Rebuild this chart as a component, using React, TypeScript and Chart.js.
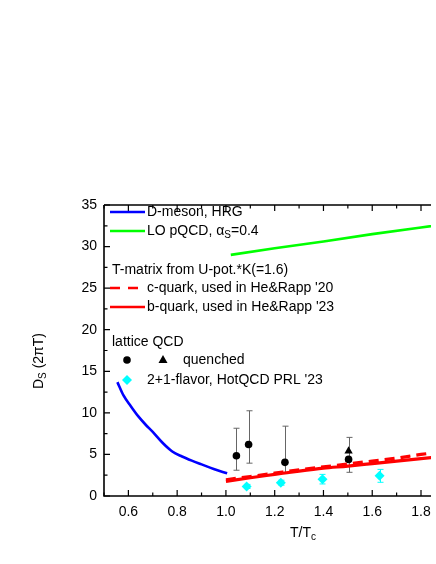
import React, { useEffect, useRef } from 'react';
import { Chart, registerables } from 'chart.js';

Chart.register(...registerables);

// ---- data ----
const X_TICKS = [0.6, 0.8, 1.0, 1.2, 1.4, 1.6, 1.8];
const X_MINOR = [0.5, 0.7, 0.9, 1.1, 1.3, 1.5, 1.7];
const Y_TICKS = [0, 5, 10, 15, 20, 25, 30, 35];
const Y_MINOR = [2.5, 7.5, 12.5, 17.5, 22.5, 27.5, 32.5];

const HRG_T = [0.555, 0.58, 0.61, 0.64, 0.67, 0.7, 0.74, 0.78, 0.82, 0.86, 0.9, 0.95, 1.005];
const HRG_D = [13.7, 12.1, 10.8, 9.6, 8.6, 7.7, 6.4, 5.35, 4.75, 4.25, 3.8, 3.25, 2.73];

const PQCD_T = [1.02, 1.2, 1.4, 1.6, 1.8, 2.0];
const PQCD_D = [29.0, 29.8, 30.6, 31.5, 32.3, 33.1];

const TM_T = [1.0, 1.1, 1.2, 1.3, 1.4, 1.5, 1.6, 1.7, 1.8, 1.9, 2.0];
const CQ_D = [1.95, 2.35, 2.75, 3.15, 3.5, 3.85, 4.2, 4.55, 5.0, 5.35, 5.65];
const BQ_D = [1.75, 2.2, 2.6, 3.0, 3.35, 3.6, 3.9, 4.2, 4.5, 4.8, 5.1];

const QUE_T = [1.043, 1.093, 1.242, 1.503];
const QUE_D = [4.85, 6.2, 4.05, 4.4];
const QUE_LO = [3.1, 3.95, 2.7, 2.85];
const QUE_HI = [8.15, 10.25, 8.4, 7.05];

const TRI_T = [1.503];
const TRI_D = [5.4];

const HOT_T = [1.085, 1.225, 1.396, 1.63];
const HOT_D = [1.15, 1.6, 2.0, 2.45];
const HOT_LO = [0.9, 1.3, 1.45, 1.65];
const HOT_HI = [1.4, 1.9, 2.6, 3.2];

const FONT = '"Liberation Sans", Arial, sans-serif';
const BLUE = '#0000ff';
const GREEN = '#00ff00';
const RED = '#ff0000';
const CYAN = '#00ffff';

const pts = (xs: number[], ys: number[]) => xs.map((x, i) => ({ x, y: ys[i] }));

type Part = { t: string; sub?: boolean };

function drawRich(ctx: CanvasRenderingContext2D, parts: Part[], x: number, y: number, align: 'left' | 'center', size = 14) {
  const f = `${size}px ${FONT}`;
  const fs = `${Math.round(size * 0.72)}px ${FONT}`;
  let total = 0;
  const widths = parts.map((p) => {
    ctx.font = p.sub ? fs : f;
    const w = ctx.measureText(p.t).width;
    total += w;
    return w;
  });
  let cx = align === 'center' ? x - total / 2 : x;
  ctx.textBaseline = 'middle';
  ctx.textAlign = 'left';
  parts.forEach((p, i) => {
    ctx.font = p.sub ? fs : f;
    ctx.fillText(p.t, cx, p.sub ? y + 4 : y);
    cx += widths[i];
  });
}

const decor = {
  id: 'decor',
  beforeDatasetsDraw(chart: any) {
    const ctx: CanvasRenderingContext2D = chart.ctx;
    const xs = chart.scales.x;
    const ys = chart.scales.y;
    ctx.save();
    const bars = (X: number[], LO: number[], HI: number[], color: string) => {
      ctx.strokeStyle = color;
      ctx.lineWidth = 1;
      X.forEach((xv, i) => {
        const px = Math.round(xs.getPixelForValue(xv)) + 0.5;
        const pl = ys.getPixelForValue(LO[i]);
        const ph = ys.getPixelForValue(HI[i]);
        ctx.beginPath();
        ctx.moveTo(px, pl);
        ctx.lineTo(px, ph);
        ctx.moveTo(px - 3, pl);
        ctx.lineTo(px + 3, pl);
        ctx.moveTo(px - 3, ph);
        ctx.lineTo(px + 3, ph);
        ctx.stroke();
      });
    };
    bars(QUE_T, QUE_LO, QUE_HI, '#666666');
    bars(HOT_T, HOT_LO, HOT_HI, CYAN);
    ctx.restore();
  },
  afterDraw(chart: any) {
    const ctx: CanvasRenderingContext2D = chart.ctx;
    const { left, right, top, bottom } = chart.chartArea;
    const xs = chart.scales.x;
    const ys = chart.scales.y;
    ctx.save();
    ctx.strokeStyle = '#000';
    ctx.fillStyle = '#000';
    ctx.lineWidth = 1.6;
    ctx.beginPath();
    ctx.moveTo(left, top);
    ctx.lineTo(right, top);
    ctx.moveTo(left, top);
    ctx.lineTo(left, bottom);
    ctx.lineTo(right, bottom);
    ctx.stroke();
    ctx.lineWidth = 1.2;
    ctx.beginPath();
    const xTick = (v: number, len: number) => {
      const p = xs.getPixelForValue(v);
      ctx.moveTo(p, bottom);
      ctx.lineTo(p, bottom - len);
      ctx.moveTo(p, top);
      ctx.lineTo(p, top + len);
    };
    const yTick = (v: number, len: number) => {
      const p = ys.getPixelForValue(v);
      ctx.moveTo(left, p);
      ctx.lineTo(left + len, p);
    };
    X_TICKS.forEach((v) => xTick(v, 6));
    X_MINOR.forEach((v) => xTick(v, 3.5));
    Y_TICKS.forEach((v) => yTick(v, 6));
    Y_MINOR.forEach((v) => yTick(v, 3.5));
    ctx.stroke();

    // axis titles
    ctx.fillStyle = '#000';
    drawRich(ctx, [{ t: 'T/T' }, { t: 'c', sub: true }], 303, 533, 'center');
    ctx.save();
    ctx.translate(39, 361);
    ctx.rotate(-Math.PI / 2);
    drawRich(ctx, [{ t: 'D' }, { t: 'S', sub: true }, { t: ' (2\u03c0T)' }], 0, 0, 'center');
    ctx.restore();

    // legend
    const line = (y: number, color: string, dash: number[], x0 = 110, x1 = 145) => {
      ctx.save();
      ctx.strokeStyle = color;
      ctx.lineWidth = 2.6;
      ctx.setLineDash(dash);
      ctx.beginPath();
      ctx.moveTo(x0, y);
      ctx.lineTo(x1, y);
      ctx.stroke();
      ctx.restore();
    };
    ctx.fillStyle = '#000';
    line(212, BLUE, []);
    drawRich(ctx, [{ t: 'D-meson, HRG' }], 147, 212, 'left');
    line(231, GREEN, []);
    drawRich(ctx, [{ t: 'LO pQCD, \u03b1' }, { t: 'S', sub: true }, { t: '=0.4' }], 147, 231, 'left');
    drawRich(ctx, [{ t: 'T-matrix from U-pot.*K(=1.6)' }], 112, 270, 'left');
    line(288, RED, [10, 8], 110, 146);
    drawRich(ctx, [{ t: "c-quark, used in He&Rapp '20" }], 147, 288, 'left');
    line(307, RED, []);
    drawRich(ctx, [{ t: "b-quark, used in He&Rapp '23" }], 147, 307, 'left');
    drawRich(ctx, [{ t: 'lattice QCD' }], 112, 342, 'left');
    // circle
    ctx.fillStyle = '#000';
    ctx.beginPath();
    ctx.arc(127, 360, 3.8, 0, Math.PI * 2);
    ctx.fill();
    // triangle
    ctx.beginPath();
    ctx.moveTo(163, 355);
    ctx.lineTo(167.5, 363);
    ctx.lineTo(158.5, 363);
    ctx.closePath();
    ctx.fill();
    drawRich(ctx, [{ t: 'quenched' }], 183, 360, 'left');
    // diamond
    ctx.fillStyle = CYAN;
    ctx.beginPath();
    ctx.moveTo(127, 375);
    ctx.lineTo(132, 380);
    ctx.lineTo(127, 385);
    ctx.lineTo(122, 380);
    ctx.closePath();
    ctx.fill();
    ctx.fillStyle = '#000';
    drawRich(ctx, [{ t: "2+1-flavor, HotQCD PRL '23" }], 147, 380, 'left');
    ctx.restore();
  },
};

export default function App() {
  const ref = useRef<HTMLCanvasElement | null>(null);
  useEffect(() => {
    if (!ref.current) return;
    const chart = new Chart(ref.current, {
      type: 'scatter',
      data: {
        datasets: [
          { label: 'D-meson, HRG', data: pts(HRG_T, HRG_D), showLine: true, borderColor: BLUE, borderWidth: 2.6, pointRadius: 0, cubicInterpolationMode: 'monotone' },
          { label: 'LO pQCD', data: pts(PQCD_T, PQCD_D), showLine: true, borderColor: GREEN, borderWidth: 2.6, pointRadius: 0 },
          { label: 'c-quark', data: pts(TM_T, CQ_D), showLine: true, borderColor: RED, borderWidth: 3.2, borderDash: [10, 6], pointRadius: 0, cubicInterpolationMode: 'monotone' },
          { label: 'b-quark', data: pts(TM_T, BQ_D), showLine: true, borderColor: RED, borderWidth: 3.2, pointRadius: 0, cubicInterpolationMode: 'monotone' },
          { label: 'quenched', data: pts(QUE_T, QUE_D), showLine: false, pointStyle: 'circle', pointRadius: 3.8, backgroundColor: '#000', borderColor: '#000', borderWidth: 0 },
          { label: 'quenched tri', data: pts(TRI_T, TRI_D), showLine: false, pointStyle: 'triangle', pointRadius: 4.8, backgroundColor: '#000', borderColor: '#000', borderWidth: 0 },
          { label: 'HotQCD', data: pts(HOT_T, HOT_D), showLine: false, pointStyle: 'rectRot', pointRadius: 5, backgroundColor: CYAN, borderColor: CYAN, borderWidth: 0 },
        ],
      },
      options: {
        responsive: false,
        animation: false,
        layout: { padding: { top: 205, left: 0, right: 0, bottom: 0 } },
        plugins: { legend: { display: false }, tooltip: { enabled: false }, title: { display: false } },
        scales: {
          x: {
            type: 'linear',
            min: 0.5,
            max: 1.841,
            grid: { display: false, drawTicks: false },
            border: { display: false },
            ticks: {
              padding: 8,
              color: '#000',
              font: { family: FONT, size: 14 },
              callback: (v: any) => Number(v).toFixed(1),
            },
            afterBuildTicks: (s: any) => {
              s.ticks = X_TICKS.map((v) => ({ value: v }));
            },
            afterFit: (s: any) => {
              s.height = 68;
              s.paddingLeft = 0;
              s.paddingRight = 0;
            },
          },
          y: {
            type: 'linear',
            min: 0,
            max: 35,
            grid: { display: false, drawTicks: false },
            border: { display: false },
            ticks: {
              padding: 7,
              color: '#000',
              font: { family: FONT, size: 14 },
            },
            afterBuildTicks: (s: any) => {
              s.ticks = Y_TICKS.map((v) => ({ value: v }));
            },
            afterFit: (s: any) => {
              s.width = 104;
              s.paddingTop = 0;
              s.paddingBottom = 0;
            },
          },
        },
      },
      plugins: [decor],
    });
    return () => chart.destroy();
  }, []);
  return (
    <div style={{ position: 'absolute', left: 0, top: 0, width: 436, height: 564, background: '#fff' }}>
      <canvas ref={ref} width={436} height={564} style={{ display: 'block' }} />
    </div>
  );
}
